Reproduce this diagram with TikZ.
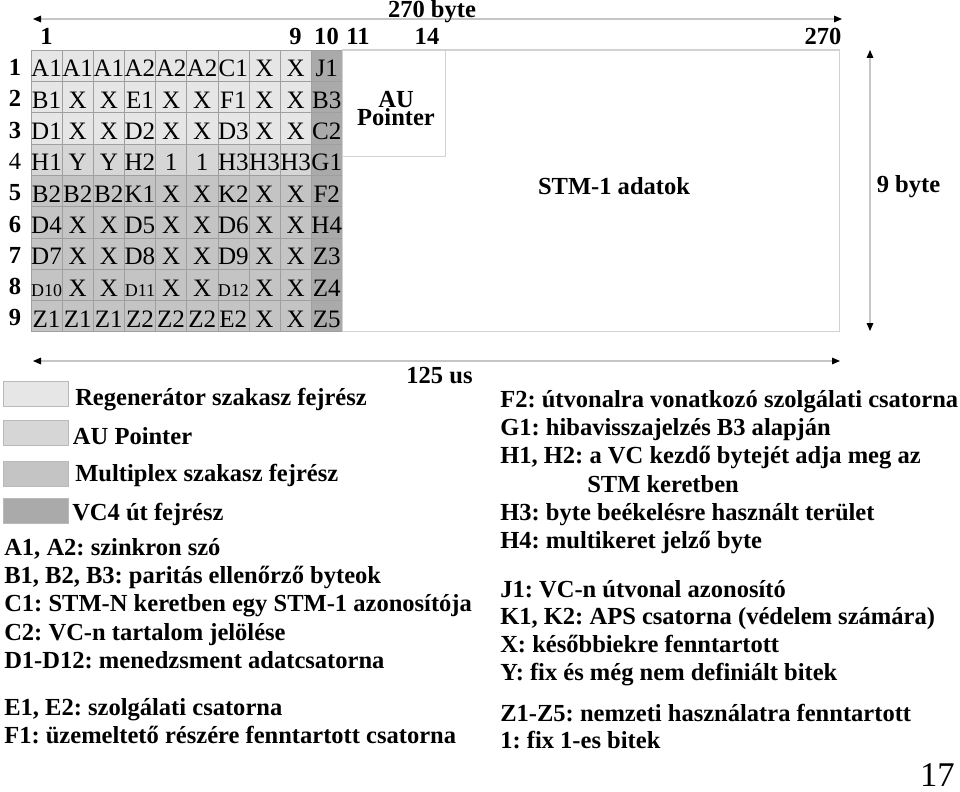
\documentclass[tikz,border=0pt]{standalone}
\usepackage{fontspec}
\setmainfont{Liberation Serif}
\usetikzlibrary{arrows.meta}
\frenchspacing

\definecolor{regszin}{HTML}{E6E6E6}
\definecolor{aupszin}{HTML}{D6D6D6}
\definecolor{muxszin}{HTML}{C4C4C4}
\definecolor{vcszin}{HTML}{AAAAAA}
\newcommand{\kicsi}{\fontsize{13.5}{13.5}\selectfont}
\newcommand{\nagy}{\fontsize{18.4}{21}\selectfont}
\newcommand{\cellabetu}{\fontsize{18.8}{21}\selectfont}

\begin{document}
\begin{tikzpicture}[x=0.75pt, y=-0.75pt,
  cella/.style={draw=gray!75, line width=0.4pt, minimum width=23.35pt, minimum height=23.48pt, inner sep=0pt, text height=17pt, text depth=0pt, font=\cellabetu},
  fejlec/.style={font=\nagy\bfseries, inner sep=0pt, anchor=base},
  keret/.style={draw=gray!35, line width=0.8pt, inner sep=0pt},
  meretnyil/.style={draw=gray!45, line width=0.8pt, {Triangle[color=black, length=6pt, width=5pt]}-{Triangle[color=black, length=6pt, width=5pt]}},
  jelkep/.style={draw=gray!55, line width=0.5pt, minimum width=48.75pt, minimum height=18.75pt, inner sep=0pt},
  magyaraz/.style={font=\nagy\bfseries, inner sep=0pt, anchor=base west}]
\useasboundingbox (0,0) rectangle (960,792);

\foreach \sor [count=\sorsz] in {{A1,A1,A1,A2,A2,A2,C1,X,X,J1},
    {B1,X,X,E1,X,X,F1,X,X,B3},
    {D1,X,X,D2,X,X,D3,X,X,C2},
    {H1,Y,Y,H2,1,1,H3,H3,H3,G1},
    {B2,B2,B2,K1,X,X,K2,X,X,F2},
    {D4,X,X,D5,X,X,D6,X,X,H4},
    {D7,X,X,D8,X,X,D9,X,X,Z3},
    {{\kicsi D10},X,X,{\kicsi D11},X,X,{\kicsi D12},X,X,Z4},
    {Z1,Z1,Z1,Z2,Z2,Z2,E2,X,X,Z5}}
  \foreach \felirat [count=\oszlop] in \sor {
    \ifnum\oszlop=10 \def\szin{vcszin}\else\ifnum\sorsz<4 \def\szin{regszin}\else\ifnum\sorsz=4 \def\szin{aupszin}\else\def\szin{muxszin}\fi\fi\fi
    \node[cella, fill=\szin] (c\sorsz-\oszlop) at ({31+(\oszlop-0.5)*31.13}, {50+(\sorsz-0.5)*31.3}) {\felirat};
  }
\foreach \sorsz in {1,...,9}
  \node[fejlec] (s\sorsz) at (15, {50+(\sorsz-1)*31.3+25.5}) {\ifnum\sorsz=4 \mdseries\fi\sorsz};

\node[fejlec] (o1) at (46.5,45) {1};
\node[fejlec] (o9) at (295.5,45) {9};
\node[fejlec] (o10) at (326.5,45) {10};
\node[fejlec] (o11) at (358,45) {11};
\node[fejlec] (o14) at (427,45) {14};
\node[fejlec] (o270) at (823,45) {270};

\node[keret, minimum width=372.75pt, minimum height=211.3pt] (stm) at (590.7,190.9) {};
\node[keret, minimum width=77.4pt, minimum height=79.9pt] (aup) at (393.9,103.3) {};
\node[fejlec, anchor=center, align=center, font=\bfseries\fontsize{18.4}{13.8}\selectfont] (auptxt) at (396,108.5) {AU\\Pointer};
\node[fejlec] (stmtxt) at (614,194) {STM-1 adatok};

\coordinate (b270) at (33,19);
\coordinate (j270) at (842,19);
\draw[meretnyil] (b270) -- (j270);
\node[fejlec] (n270) at (432,17.5) {270 byte};
\coordinate (f9) at (870,50);
\coordinate (a9) at (870,331);
\draw[meretnyil] (f9) -- (a9);
\node[fejlec] (n9) at (908.5,192) {9 byte};
\coordinate (b125) at (33,361);
\coordinate (j125) at (840,361);
\draw[meretnyil] (b125) -- (j125);
\node[fejlec] (n125) at (439.5,383) {125 us};

\node[jelkep, fill=regszin] (jreg) at (35.5,394.2) {};
\node[jelkep, fill=aupszin] (jaup) at (35.5,433) {};
\node[jelkep, fill=muxszin] (jmux) at (35.5,474.2) {};
\node[jelkep, fill=vcszin] (jvc) at (35.5,510.4) {};
\node[magyaraz] (treg) at (75,405) {Regenerátor szakasz fejrész};
\node[magyaraz] (taup) at (72.7,444) {AU Pointer};
\node[magyaraz] (tmux) at (75,481.7) {Multiplex szakasz fejrész};
\node[magyaraz] (tvc) at (72,520) {VC4 út fejrész};

\node[magyaraz] (mA) at (4,555) {A1, A2: szinkron szó};
\node[magyaraz] (mB) at (4,583.3) {B1, B2, B3: paritás ellenőrző byteok};
\node[magyaraz] (mC1) at (4,611.7) {C1: STM-N keretben egy STM-1 azonosítója};
\node[magyaraz] (mC2) at (4,640) {C2: VC-n tartalom jelölése};
\node[magyaraz] (mD) at (4,668.3) {D1-D12: menedzsment adatcsatorna};
\node[magyaraz] (mE) at (4,715) {E1, E2: szolgálati csatorna};
\node[magyaraz] (mF1) at (4,743.3) {F1: üzemeltető részére fenntartott csatorna};

\node[magyaraz] (mF2) at (500,407) {F2: útvonalra vonatkozó szolgálati csatorna};
\node[magyaraz] (mG1) at (500,435) {G1: hibavisszajelzés B3 alapján};
\node[magyaraz] (mH) at (500,463) {H1, H2: a VC kezdő bytejét adja meg az};
\node[magyaraz] (mHb) at (587,492) {STM keretben};
\node[magyaraz] (mH3) at (500,520) {H3: byte beékelésre használt terület};
\node[magyaraz] (mH4) at (500,548) {H4: multikeret jelző byte};
\node[magyaraz] (mJ1) at (500,597) {J1: VC-n útvonal azonosító};
\node[magyaraz] (mK) at (500,624) {K1, K2: APS csatorna (védelem számára)};
\node[magyaraz] (mX) at (500,652) {X: későbbiekre fenntartott};
\node[magyaraz] (mY) at (500,680) {Y: fix és még nem definiált bitek};
\node[magyaraz] (mZ) at (500,721) {Z1-Z5: nemzeti használatra fenntartott};
\node[magyaraz] (megy) at (500,748) {1: fix 1-es bitek};

\node[inner sep=0pt, anchor=base east, font=\fontsize{26}{26}\selectfont] (lap) at (955,786) {17};
\end{tikzpicture}
\end{document}
